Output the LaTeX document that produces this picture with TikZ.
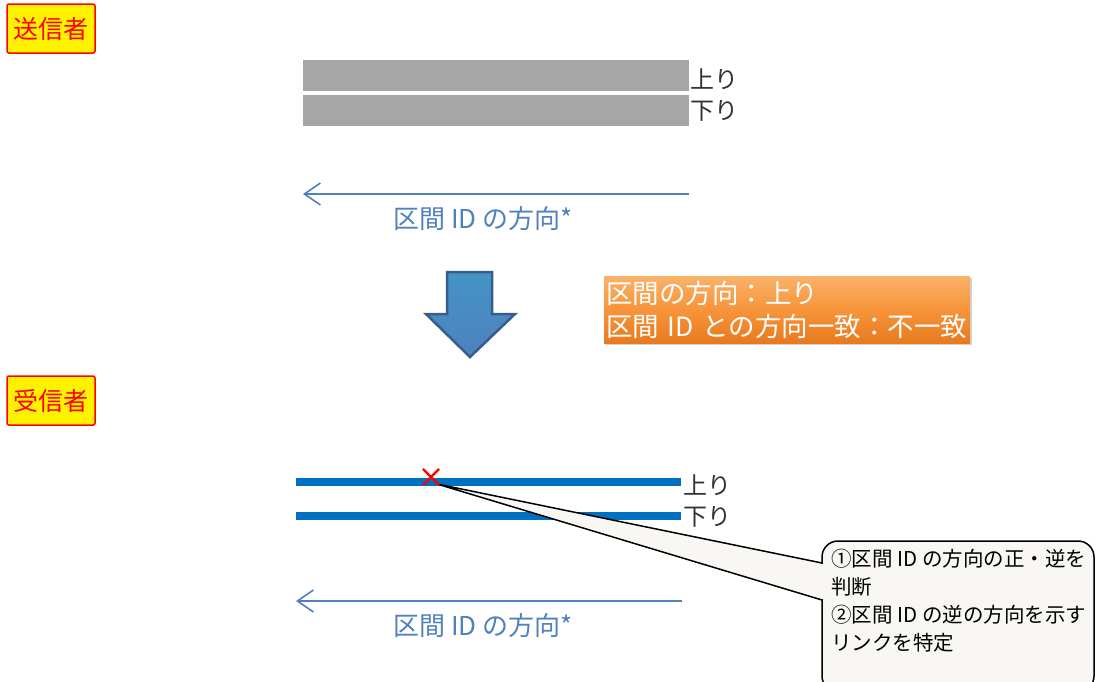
\documentclass[tikz,border=0pt]{standalone}
\usepackage{fontspec}
\newfontfamily\jp{Noto Sans CJK JP}
\usetikzlibrary{arrows.meta,shadows,positioning,shapes.misc}

\definecolor{idblue}{RGB}{79,129,189}
\definecolor{darkblue}{RGB}{56,93,138}
\definecolor{lineblue}{RGB}{0,112,192}
\definecolor{bargray}{RGB}{166,166,166}
\definecolor{notefill}{RGB}{248,247,243}
\definecolor{orangetop}{RGB}{250,178,105}
\definecolor{orangemid}{RGB}{247,148,58}
\definecolor{orangebot}{RGB}{232,122,30}

\begin{document}
\begin{tikzpicture}[x=1pt,y=-1pt,>={Straight Barb[length=16pt,width=22pt]},
                    font=\jp]
  \tikzstyle{role}=[draw=red,fill=yellow,line width=1.5pt,text=red,rounded corners=2pt,
                    minimum width=88pt,minimum height=49pt,inner sep=0pt,
                    font=\jp\fontsize{25}{28}\selectfont]
  \tikzstyle{bar}=[fill=bargray,minimum width=386pt,minimum height=31pt,inner sep=0pt]
  \tikzstyle{track}=[draw=lineblue,line width=8pt]
  \tikzstyle{lane}=[text=black!80,inner sep=1pt,font=\jp\fontsize{24}{26}\selectfont]
  \tikzstyle{dir}=[draw=idblue,line width=1.6pt,->]
  \tikzstyle{dirlabel}=[text=idblue,font=\jp\fontsize{26}{28}\selectfont]
  \tikzstyle{cross}=[cross out,draw=red,line width=2.2pt,minimum size=14pt,inner sep=0pt]

  \useasboundingbox (0,0) rectangle (1096,681);

  % sender side
  \node[role] (tx) at (51,28.5) {送信者};
  \node[bar] (up)   at (496,75.5) {};
  \node[bar] (down) at (496,110)  {};
  \node[lane,anchor=west] at (689,79)  {上り};
  \node[lane,anchor=west] at (689,111) {下り};

  \coordinate (s1) at (689,194);
  \coordinate (s0) at (303,194);
  \draw[dir] (s1) -- (s0);
  \node[dirlabel] (slabel) at (483,219) {区間 ID の方向*};

  % big arrow down
  \draw[draw=darkblue,line width=2.5pt,top color=idblue!85!cyan,bottom color=idblue,
        line join=miter]
    (447,272) -- (492,272) -- (492,314) -- (515,314) -- (470,357)
    -- (426,314) -- (447,314) -- cycle;

  \node[top color=orangetop,bottom color=orangebot,middle color=orangemid,
        drop shadow={opacity=0.35},
        minimum width=366pt,minimum height=67pt,text=white,align=left,
        text width=362pt,inner sep=2pt,font=\jp\fontsize{26.5}{33}\selectfont]
    (result) at (787,309.5) {区間の方向：上り\\区間 ID との方向一致：不一致};

  % receiver side
  \node[role] (rx) at (51,400.5) {受信者};
  \coordinate (u0) at (296,482);
  \coordinate (u1) at (681,482);
  \coordinate (d0) at (296,516);
  \coordinate (d1) at (681,516);
  \draw[track] (u0) -- (u1);
  \draw[track] (d0) -- (d1);
  \node[lane,anchor=west] at (682,485) {上り};
  \node[lane,anchor=west] at (682,517) {下り};

  \coordinate (r1) at (682,601);
  \coordinate (r0) at (296,601);
  \draw[dir] (r1) -- (r0);
  \node[dirlabel] (rlabel) at (483,626) {区間 ID の方向*};

  % note with pointer
  \coordinate (tip) at (437,484);
  \coordinate (p1) at (822,563);
  \coordinate (p2) at (822,600);
  \fill[notefill] (tip) -- (p1) -- (p2) -- cycle;
  \draw[fill=notefill,line width=1.5pt,rounded corners=16pt] (822,541) rectangle (1094,692);
  \fill[notefill] (820,563.8) rectangle (824,599.2);
  \draw[line width=1.5pt] (p1) -- (tip) -- (p2);
  \node[anchor=north west,align=left,inner sep=0pt,
        font=\jp\fontsize{20.5}{28}\selectfont] (note) at (831,549)
    {①区間 ID の方向の正・逆を\\判断\\②区間 ID の逆の方向を示す\\リンクを特定};

  \node[cross] (mark) at (431,477) {};
\end{tikzpicture}
\end{document}
